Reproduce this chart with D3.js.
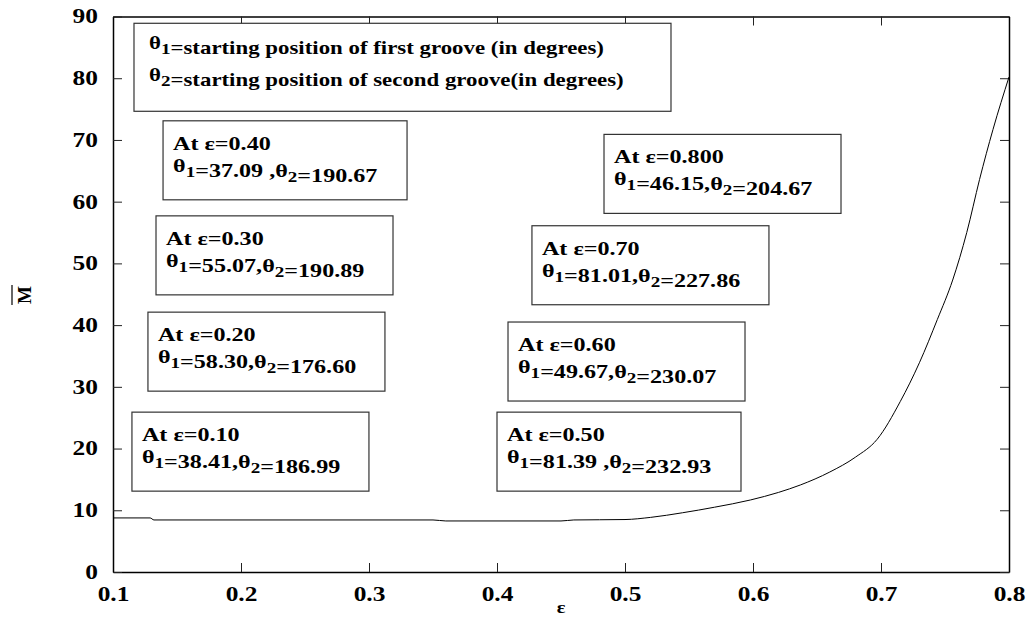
<!DOCTYPE html>
<html>
<head>
<meta charset="utf-8">
<script src="https://cdn.jsdelivr.net/npm/d3@7.9.0/dist/d3.min.js"></script>
<style>
  body { margin: 0; background: #fff; }
  svg { display: block; }
  text { font-family: "Liberation Serif", "Times New Roman", serif; font-weight: bold; fill: #000; }
</style>
</head>
<body>
<div id="chart"></div>
<script>
// curve
const epsValues = [0.10, 0.129, 0.132, 0.35, 0.36, 0.45, 0.46, 0.50, 0.52, 0.545, 0.57, 0.598, 0.62, 0.637, 0.66, 0.68, 0.697, 0.715, 0.73, 0.744, 0.756, 0.767, 0.777, 0.7875, 0.80];
const momentValues = [8.76, 8.76, 8.43, 8.43, 8.27, 8.27, 8.43, 8.5, 8.85, 9.6, 10.5, 11.67, 12.9, 14.1, 16.2, 18.6, 21.5, 27.6, 33.9, 40.9, 47.3, 55.0, 63.6, 71.7, 80.2];

const xTicks = [0.1, 0.2, 0.3, 0.4, 0.5, 0.6, 0.7, 0.8];
const yTicks = [0, 10, 20, 30, 40, 50, 60, 70, 80, 90];

// annotations
const noteEps = ['0.10', '0.20', '0.30', '0.40', '0.50', '0.60', '0.70', '0.800'];
const noteTheta1 = ['38.41', '58.30', '55.07', '37.09 ', '81.39 ', '49.67', '81.01', '46.15'];
const noteTheta2 = ['186.99', '176.60', '190.89', '190.67', '232.93', '230.07', '227.86', '204.67'];
const legendText = ['=starting position of first groove (in degrees)', '=starting position of second groove(in degrees)'];

// where each note box sits (left, top) in axis units
const noteAnchor = [
  [0.1148, 25.9], [0.1273, 42.1], [0.1336, 57.7], [0.1391, 73.1],
  [0.4000, 25.9], [0.4086, 40.5], [0.4273, 56.1], [0.4836, 70.9]
];

const width = 1028;
const height = 624;
const margin = { top: 16.5, right: 19, bottom: 52, left: 113 };
const stretch = 1.27; // the original figure is wider than its fonts

const svg = d3.select('#chart').append('svg')
  .attr('width', width)
  .attr('height', height);

const x = d3.scaleLinear().domain([0.1, 0.8]).range([margin.left, width - margin.right]);
const y = d3.scaleLinear().domain([0, 90]).range([height - margin.bottom, margin.top]);

// ticks on all four sides, pointing in
const tickLen = 9;
const axes = [
  { ax: d3.axisBottom(x).tickValues(xTicks).tickFormat(d3.format('.1f')), t: `translate(0,${y(0)})` },
  { ax: d3.axisTop(x).tickValues(xTicks).tickFormat(''), t: `translate(0,${y(90)})` },
  { ax: d3.axisLeft(y).tickValues(yTicks).tickFormat(d3.format('d')), t: `translate(${x(0.1)},0)` },
  { ax: d3.axisRight(y).tickValues(yTicks).tickFormat(''), t: `translate(${x(0.8)},0)` }
];
axes.forEach((a) => {
  const g = svg.append('g').attr('transform', a.t)
    .call(a.ax.tickSizeInner(-tickLen).tickSizeOuter(0).tickPadding(tickLen + 6));
  g.select('.domain').attr('stroke', '#000').attr('stroke-width', 1.5);
  g.selectAll('.tick line').attr('stroke', '#222').attr('stroke-width', 1);
  g.selectAll('.tick text')
    .attr('font-size', 20)
    .attr('font-family', '"Liberation Serif", serif')
    .attr('font-weight', 'bold')
    .attr('fill', '#000')
    .attr('x', function () { return (+d3.select(this).attr('x') || 0) / stretch; })
    .attr('transform', `scale(${stretch},1)`);
});

// curve
const curve = epsValues.map((e, i) => [e, momentValues[i]]);
svg.append('path')
  .datum(curve)
  .attr('fill', 'none')
  .attr('stroke', '#000')
  .attr('stroke-width', 1)
  .attr('d', d3.line().x((d) => x(d[0])).y((d) => y(d[1])).curve(d3.curveMonotoneX));

// writes "θ<sub>n</sub>" into a text node
function theta(textSel, n) {
  textSel.append('tspan').text('θ');
  textSel.append('tspan').attr('font-size', 15).attr('dy', 5).text(n);
  textSel.append('tspan').attr('dy', -5).text('');
}

// legend box
const legend = svg.append('g').attr('transform', `translate(${x(0.1164)},${y(88.9)})`);
legend.append('rect')
  .attr('width', 537).attr('height', 88)
  .attr('fill', '#fff').attr('stroke', '#333').attr('stroke-width', 1.2);
const legendTexts = legend.append('g').attr('transform', `translate(15,0) scale(${stretch},1)`);
legendText.forEach((s, i) => {
  const t = legendTexts.append('text')
    .attr('y', 26 + i * 32)
    .attr('font-size', 18);
  theta(t, i + 1);
  t.append('tspan').text(s);
});

// note boxes
noteEps.forEach((e, i) => {
  const g = svg.append('g')
    .attr('transform', `translate(${x(noteAnchor[i][0])},${y(noteAnchor[i][1])})`);
  const rect = g.append('rect').attr('fill', '#fff').attr('stroke', '#333').attr('stroke-width', 1.2);
  const tg = g.append('g').attr('transform', `translate(10,0) scale(${stretch},1)`);
  const t1 = tg.append('text').attr('y', 29).attr('font-size', 19)
    .text(`At ε=${e}`);
  const t2 = tg.append('text').attr('y', 51).attr('font-size', 19);
  theta(t2, 1);
  t2.append('tspan').text(`=${noteTheta1[i]},`);
  theta(t2, 2);
  t2.append('tspan').text(`=${noteTheta2[i]}`);
  const w = Math.max(t1.node().getBBox().width, t2.node().getBBox().width) * stretch;
  rect.attr('width', Math.round(w + 39)).attr('height', 79);
});

// axis titles
svg.append('text')
  .attr('transform', `translate(${x(0.45)},613) scale(${stretch},1)`)
  .attr('text-anchor', 'middle')
  .attr('font-family', '"Liberation Sans", Arial, sans-serif')
  .attr('font-size', 16)
  .text('ε');

const yl = svg.append('g').attr('transform', 'translate(31,295) rotate(-90)');
yl.append('text').attr('text-anchor', 'middle').attr('font-size', 19).text('M');
yl.append('line')
  .attr('x1', -10).attr('x2', 10).attr('y1', -19).attr('y2', -19)
  .attr('stroke', '#000').attr('stroke-width', 1.2);
</script>
</body>
</html>
